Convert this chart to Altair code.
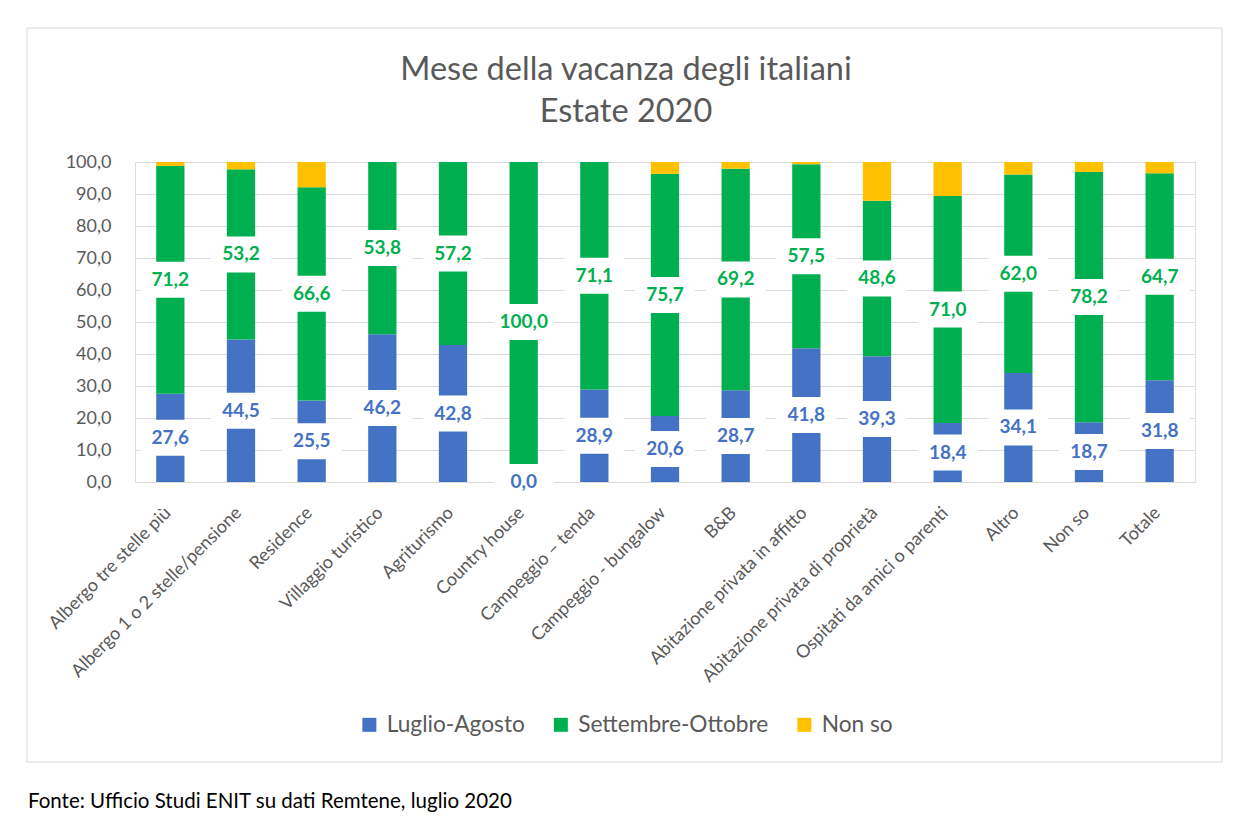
import altair as alt
import pandas as pd

categories = [
    "Albergo tre stelle più", "Albergo 1 o 2 stelle/pensione", "Residence",
    "Villaggio turistico", "Agriturismo", "Country house", "Campeggio – tenda",
    "Campeggio - bungalow", "B&B", "Abitazione privata in affitto",
    "Abitazione privata di proprietà", "Ospitati da amici o parenti",
    "Altro", "Non so", "Totale",
]
luglio_agosto = [27.6, 44.5, 25.5, 46.2, 42.8, 0.0, 28.9, 20.6, 28.7, 41.8, 39.3, 18.4, 34.1, 18.7, 31.8]
settembre_ottobre = [71.2, 53.2, 66.6, 53.8, 57.2, 100.0, 71.1, 75.7, 69.2, 57.5, 48.6, 71.0, 62.0, 78.2, 64.7]
non_so = [1.2, 2.3, 7.9, 0.0, 0.0, 0.0, 0.0, 3.7, 2.1, 0.7, 12.1, 10.6, 3.9, 3.1, 3.5]
y_ticks = [0, 10, 20, 30, 40, 50, 60, 70, 80, 90, 100]

series_names = ["Luglio-Agosto", "Settembre-Ottobre", "Non so"]
series_colors = ["#4472C4", "#00B050", "#FFC000"]

FONT = "Lato"
GREY = "#595959"

rows = []
for i, c in enumerate(categories):
    for k, (name, vals) in enumerate(zip(series_names, [luglio_agosto, settembre_ottobre, non_so])):
        rows.append({"cat": c, "series": name, "value": vals[i], "ord": k})
df = pd.DataFrame(rows)

lab_rows = []
for i, c in enumerate(categories):
    la, so = luglio_agosto[i], settembre_ottobre[i]
    lab_rows.append({"cat": c, "series": series_names[0], "value": la / 2,
                     "txt": f"{la:.1f}".replace(".", ",")})
    lab_rows.append({"cat": c, "series": series_names[1], "value": la + so / 2,
                     "txt": f"{so:.1f}".replace(".", ",")})
lab = pd.DataFrame(lab_rows)

color_scale = alt.Scale(domain=series_names, range=series_colors)
xscale = alt.Scale(paddingInner=0.6, paddingOuter=0.3)
xaxis = alt.Axis(labelAngle=-45, labelAlign="right", labelBaseline="middle",
                 labelFont=FONT, labelFontSize=18, labelColor=GREY,
                 labelPadding=28, labelOffset=-2, ticks=False, domain=False,
                 grid=False, labelLimit=400, labelOverlap=False, zindex=2)
yscale = alt.Scale(domain=[0, 100], nice=False, zero=True)
yaxis = alt.Axis(values=y_ticks,
                 labelExpr="replace(format(datum.value, '.1f'), '.', ',')",
                 labelFont=FONT, labelFontSize=18, labelColor=GREY,
                 labelPadding=24, ticks=False, domain=False, labelOverlap=False,
                 grid=True, gridColor="#d9d9d9", gridWidth=1.2)

X = alt.X("cat:N", sort=categories, title=None, scale=xscale, axis=xaxis)

bars = alt.Chart(df).mark_bar().encode(
    x=X,
    y=alt.Y("value:Q", stack="zero", scale=yscale, title=None, axis=yaxis),
    color=alt.Color("series:N", scale=color_scale, sort=series_names,
                    legend=alt.Legend(title=None, orient="none", direction="horizontal",
                                      legendX=223, legendY=551, columns=3,
                                      symbolType="square", symbolSize=196,
                                      symbolStrokeWidth=0, symbolOpacity=1,
                                      labelFont=FONT, labelFontSize=22.7, labelColor=GREY,
                                      labelOffset=6, columnPadding=24.5, padding=0,
                                      labelLimit=400)),
    order=alt.Order("ord:Q"),
)

box_path = "M-1,-0.6H1V0.6H-1Z"
boxes = alt.Chart(lab).mark_point(shape=box_path, filled=True, fill="white",
                                  opacity=1, size=3600, strokeWidth=0).encode(
    x=X,
    y=alt.Y("value:Q", scale=yscale, title=None, axis=yaxis),
)
texts = alt.Chart(lab).mark_text(font=FONT, fontSize=19, fontWeight="bold",
                                 baseline="middle", align="center").encode(
    x=X,
    y=alt.Y("value:Q", scale=yscale, title=None, axis=yaxis),
    text="txt:N",
    color=alt.Color("series:N", scale=color_scale, legend=None),
)

one = alt.Data(values=[{"a": 1}])
frame = alt.Chart(one).mark_rect(fill=None, stroke="#d9d9d9", strokeWidth=1).encode(
    x=alt.value(-108), x2=alt.value(1087), y=alt.value(-134), y2=alt.value(600))
title1 = alt.Chart(one).mark_text(font=FONT, fontSize=32.5, color=GREY, align="center",
                                  baseline="middle").encode(
    x=alt.value(491), y=alt.value(-92), text=alt.value("Mese della vacanza degli italiani"))
title2 = alt.Chart(one).mark_text(font=FONT, fontSize=32.5, color=GREY, align="center",
                                  baseline="middle").encode(
    x=alt.value(491), y=alt.value(-50), text=alt.value("Estate 2020"))
footer = alt.Chart(one).mark_text(font=FONT, fontSize=20.5, color="#000000", align="left",
                                  baseline="middle").encode(
    x=alt.value(-107), y=alt.value(640),
    text=alt.value("Fonte: Ufficio Studi ENIT su dati Remtene, luglio 2020"))

chart = alt.layer(frame, bars, boxes, texts, title1, title2, footer).properties(
    width=1060, height=320,
    autosize=alt.AutoSizeParams(type="none"),
    padding={"left": 127, "top": 154, "right": 47, "bottom": 330},
).configure_view(stroke=None).configure(background="white")

chart.save("out.html", embed_options={"renderer": "svg", "actions": False})
